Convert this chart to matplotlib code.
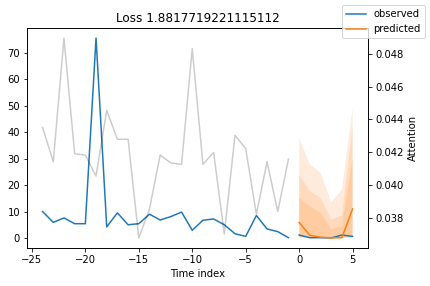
import matplotlib
matplotlib.use("Agg")
import matplotlib.pyplot as plt
import numpy as np

# encoder (observed history)
x_obs = list(range(-24, 0))
y_obs = [10, 5.9, 7.6, 5.4, 5.4, 75.7, 4.2, 9.5, 5, 5.4, 9, 6.8,
         8.1, 9.8, 2.9, 6.7, 7.2, 5, 1.6, 0.6, 8.5, 3.4, 2.4, 0.1]
attention = [0.04351, 0.04143, 0.04895, 0.04191, 0.04183, 0.04055, 0.04455, 0.04279,
             0.04279, 0.03679, 0.03855, 0.04183, 0.04135, 0.04127, 0.04831, 0.04127,
             0.04199, 0.03703, 0.04303, 0.04223, 0.03823, 0.04143, 0.03839, 0.04159]

# decoder (prediction window)
x_pred = list(range(0, 6))
y_true = [1.1, 0.1, 0.1, 0.0, 1.1, 0.6]
y_hat = [5.9, 1.0, 0.3, 0.0, 0.1, 11.0]
# quantiles 0.02, 0.1, 0.25, 0.5, 0.75, 0.9, 0.98
quantiles = np.array([
    [0.0, 0.0, 0.0, 0.0, 0.0, 0.0],
    [0.3, 0.1, 0.0, 0.0, 0.0, 0.2],
    [0.8, 0.3, 0.1, 0.0, 0.1, 0.8],
    [5.9, 1.0, 0.3, 0.0, 0.1, 11.0],
    [15.2, 12.0, 9.5, 3.4, 4.4, 30.0],
    [24.0, 17.7, 15.2, 7.0, 8.5, 42.0],
    [37.8, 27.8, 24.8, 13.6, 18.2, 49.0],
]).T

fig = plt.figure(figsize=(430 / 72, 286 / 72), dpi=72)
ax = fig.add_subplot(111)
fig.subplots_adjust(left=0.063, right=0.856, bottom=0.133, top=0.902)

obs_color = "C0"
pred_color = "C1"

ax.plot(x_obs, y_obs, label="observed", c=obs_color)
ax.plot(x_pred, y_true, label=None, c=obs_color)
ax.plot(x_pred, y_hat, label="predicted", c=pred_color)
n = quantiles.shape[1]
for i in range(n // 2):
    ax.fill_between(x_pred, quantiles[:, i], quantiles[:, -i - 1], alpha=0.15, fc=pred_color)

ax2 = ax.twinx()
ax2.set_ylabel("Attention")
ax2.plot(x_obs, attention, alpha=0.2, color="k")

ax.set_title("Loss 1.8817719221115112")
ax.set_xlabel("Time index")
fig.legend()

plt.savefig("out.png", dpi=72)
